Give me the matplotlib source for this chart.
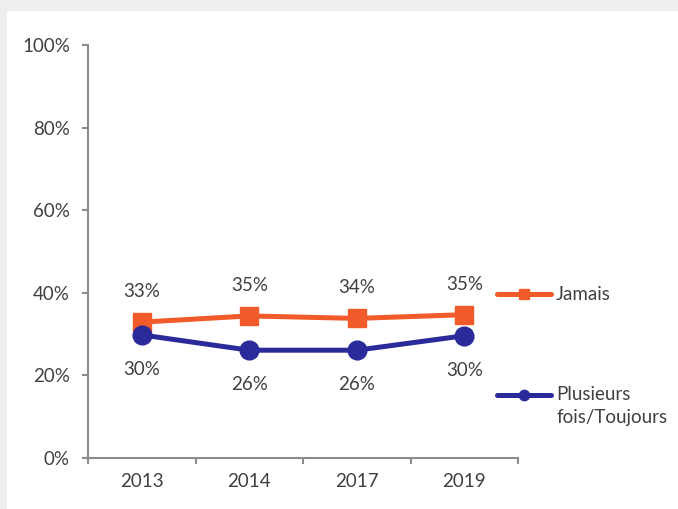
import matplotlib
matplotlib.use("Agg")
import matplotlib.pyplot as plt
from matplotlib.patches import Rectangle
from matplotlib.ticker import FuncFormatter, FixedLocator
from matplotlib.legend_handler import HandlerLine2D
from matplotlib.transforms import Affine2D

years = ["2013", "2014", "2017", "2019"]
jamais = [32.9, 34.4, 33.8, 34.7]
plusieurs = [29.8, 26.1, 26.1, 29.6]
jamais_labels = ["33%", "35%", "34%", "35%"]
plusieurs_labels = ["30%", "26%", "26%", "30%"]
yticks = [0, 20, 40, 60, 80, 100]

ORANGE = "#F15A29"
BLUE = "#2B2A9A"
TEXT = "#404040"
AXIS = "#8C8C8C"
FS = 13.5

plt.rcParams['font.family'] = ['Lato', 'DejaVu Sans']


class FirstLineHandler(HandlerLine2D):
    """Place the legend line level with the first line of a two-line label."""
    def create_artists(self, legend, orig_handle, xdescent, ydescent, width,
                       height, fontsize, trans):
        shift = Affine2D().translate(0, 0.62 * fontsize)
        return super().create_artists(legend, orig_handle, xdescent, ydescent,
                                      width, height, fontsize, shift + trans)


W, H = 678, 509
fig = plt.figure(figsize=(W / 100, H / 100), dpi=100, facecolor="#EEEEEE")
fig.patches.append(Rectangle((7 / W, 0), 1, (H - 11) / H, transform=fig.transFigure,
                             facecolor="white", edgecolor="none", zorder=-10))

ax = fig.add_axes([88 / W, (H - 458) / H, (518 - 88) / W, (458 - 45) / H])
ax.set_facecolor("none")

x = list(range(len(years)))
l1, = ax.plot(x, jamais, color=ORANGE, lw=3.6, marker="s", ms=13.5, label="Jamais",
              solid_capstyle="round", zorder=3)
l2, = ax.plot(x, plusieurs, color=BLUE, lw=3.6, marker="o", ms=13.5,
              label="Plusieurs\nfois/Toujours", solid_capstyle="round", zorder=3)

for xi, v, s in zip(x, jamais, jamais_labels):
    ax.annotate(s, (xi, v), xytext=(0, 22), textcoords="offset points",
                ha="center", va="center", fontsize=FS, color=TEXT)
for xi, v, s in zip(x, plusieurs, plusieurs_labels):
    ax.annotate(s, (xi, v), xytext=(0, -25), textcoords="offset points",
                ha="center", va="center", fontsize=FS, color=TEXT)

ax.set_xlim(-0.5, len(years) - 0.5)
ax.set_ylim(0, 100)
ax.yaxis.set_major_locator(FixedLocator(yticks))
ax.yaxis.set_major_formatter(FuncFormatter(lambda v, p: f"{v:.0f}%"))

ax.xaxis.set_major_locator(FixedLocator([i - 0.5 for i in range(len(years) + 1)]))
ax.xaxis.set_major_formatter(FuncFormatter(lambda v, p: ""))
ax.xaxis.set_minor_locator(FixedLocator(x))
ax.set_xticklabels(years, minor=True)

for s in ["top", "right"]:
    ax.spines[s].set_visible(False)
for s in ["left", "bottom"]:
    ax.spines[s].set_color(AXIS)
    ax.spines[s].set_linewidth(1.5)

ax.tick_params(axis="y", which="major", direction="out", length=4.5, width=1.5,
               color=AXIS, pad=8.5, labelsize=FS, labelcolor=TEXT)
ax.tick_params(axis="x", which="major", direction="out", length=4.5, width=1.5,
               color=AXIS)
ax.tick_params(axis="x", which="minor", length=0, pad=11, labelsize=FS, labelcolor=TEXT)

common = dict(bbox_transform=fig.transFigure, frameon=False, fontsize=FS,
              handlelength=2.9, handletextpad=0.25, markerscale=0.55,
              labelcolor=TEXT, borderaxespad=0, borderpad=0)
leg1 = ax.legend(handles=[l1], loc="center left",
                 bbox_to_anchor=(497 / W, (H - 295) / H), **common)
ax.add_artist(leg1)
leg2 = ax.legend(handles=[l2], loc="center left",
                 bbox_to_anchor=(497 / W, (H - 406) / H),
                 handler_map={l2: FirstLineHandler()}, **common)
for t in leg2.get_texts():
    t.set_linespacing(1.45)

fig.savefig("out.png", dpi=100, facecolor=fig.get_facecolor())
